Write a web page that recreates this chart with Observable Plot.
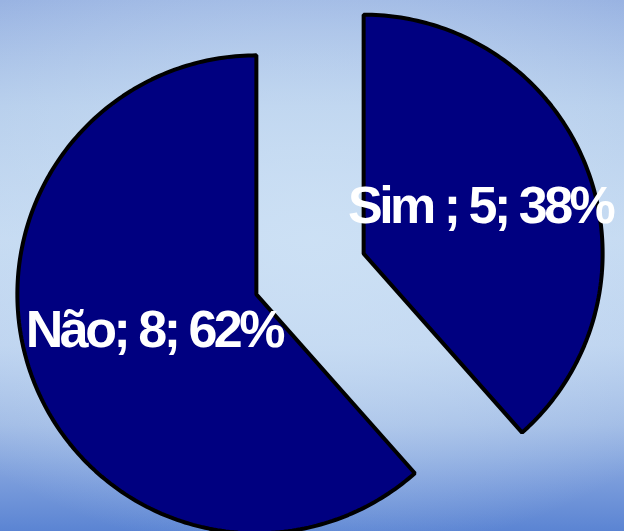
<!DOCTYPE html>
<html>
<head>
<meta charset="utf-8">
<script src="https://cdn.jsdelivr.net/npm/d3@7"></script>
<script src="https://cdn.jsdelivr.net/npm/@observablehq/plot@0.6"></script>
<style>
  html, body { margin: 0; padding: 0; }
  #chart {
    width: 624px; height: 531px; overflow: hidden;
    background:
      radial-gradient(ellipse 75% 60% at 50% 45%, rgba(205,225,245,0.9) 0%, rgba(205,225,245,0) 100%),
      linear-gradient(to bottom, #99b3e2 0%, #b4cceb 20%, #c4d9f1 45%, #bcd2ef 65%, #9fbae5 80%, #7c9edc 90%, #5b84d3 100%);
  }
  #chart svg { background: transparent; display: block; }
</style>
</head>
<body>
<div id="chart"></div>
<script>
// Data
const categories = ["Sim ", "Não"];
const values = [5, 8];
const percentLabels = ["38%", "62%"];

const explode = 0.24;     // fraction of radius each slice is pulled out
const labelRadius = 0.49; // label distance from slice apex, in radii

const pie = d3.pie().sort(null).value(d => d.value);
const arcs = pie(categories.map((c, i) => ({category: c, value: values[i], pct: percentLabels[i]})));

const outline = [];
const labels = [];
for (const a of arcs) {
  const mid = (a.startAngle + a.endAngle) / 2;
  const ox = explode * Math.sin(mid);
  const oy = explode * Math.cos(mid);
  outline.push({slice: a.data.category, x: ox, y: oy});
  const n = Math.max(2, Math.ceil((a.endAngle - a.startAngle) / (Math.PI / 180)));
  for (let k = 0; k <= n; k++) {
    const t = a.startAngle + (a.endAngle - a.startAngle) * k / n;
    outline.push({slice: a.data.category, x: ox + Math.sin(t), y: oy + Math.cos(t)});
  }
  labels.push({
    x: ox + labelRadius * Math.sin(mid),
    y: oy + labelRadius * Math.cos(mid),
    text: `${a.data.category}; ${a.data.value}; ${a.data.pct}`
  });
}

const R = 239;
const cx = 309.5, cy = 273.5;
const W = 624, H = 531;

const chart = Plot.plot({
  width: W,
  height: H,
  margin: 0,
  x: {domain: [-cx / R, (W - cx) / R], axis: null},
  y: {domain: [-(H - cy) / R, cy / R], axis: null},
  style: {background: "transparent", overflow: "hidden"},
  marks: [
    Plot.line(outline, {
      x: "x", y: "y", z: "slice",
      fill: "#000080", stroke: "#000000", strokeWidth: 4,
      strokeLinejoin: "miter", curve: "linear-closed"
    }),
    Plot.text(labels, {
      x: "x", y: "y", text: "text",
      fill: "white", fontSize: 52, fontWeight: "bold",
      fontFamily: "Liberation Sans, Arial, sans-serif",
      dx: 7, dy: -6
    })
  ]
});
chart.style.letterSpacing = "-3.5px";
document.getElementById("chart").appendChild(chart);
</script>
</body>
</html>
